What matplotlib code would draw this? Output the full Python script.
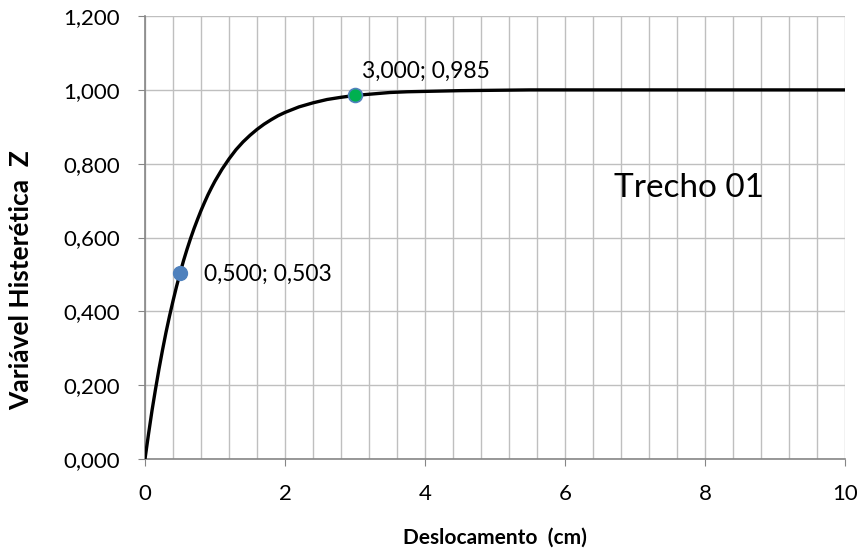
import matplotlib
matplotlib.use("Agg")
import matplotlib.pyplot as plt
from matplotlib.ticker import MultipleLocator, FuncFormatter

# Data
x_vals = [0, 0.05, 0.1, 0.15, 0.2, 0.25, 0.3, 0.35, 0.4, 0.45, 0.5, 0.55, 0.6, 0.65,
          0.7, 0.75, 0.8, 0.85, 0.9, 0.95, 1.0, 1.1, 1.2, 1.3, 1.4, 1.5, 1.6, 1.7,
          1.8, 1.9, 2.0, 2.2, 2.4, 2.6, 2.8, 3.0, 3.25, 3.5, 3.75, 4.0, 4.5, 5.0,
          5.5, 6.0, 7.0, 8.0, 9.0, 10.0]
z_vals = [0, 0.067, 0.131, 0.189, 0.244, 0.295, 0.343, 0.387, 0.428, 0.467, 0.503,
          0.537, 0.568, 0.597, 0.624, 0.649, 0.673, 0.695, 0.716, 0.735, 0.753,
          0.785, 0.813, 0.838, 0.859, 0.877, 0.893, 0.907, 0.919, 0.930, 0.939,
          0.954, 0.965, 0.974, 0.980, 0.985, 0.989, 0.993, 0.995, 0.996, 0.998,
          0.999, 1.0, 1.0, 1.0, 1.0, 1.0, 1.0]
pt1 = (0.5, 0.503)
pt2 = (3.0, 0.985)
label1 = "0,500; 0,503"
label2 = "3,000; 0,985"
title_text = "Trecho 01"

plt.rcParams['font.family'] = ['Lato', 'DejaVu Sans']

fig = plt.figure(figsize=(8.6, 5.55), dpi=100)
ax = fig.add_axes([0.1686, 0.173, 0.814, 0.798])

ax.plot(x_vals, z_vals, color='black', lw=2.4, zorder=3, solid_capstyle='round')
ax.plot([pt1[0]], [pt1[1]], 'o', ms=10, mfc='#4F81BD', mec='#4F81BD', zorder=4)
ax.plot([pt2[0]], [pt2[1]], 'o', ms=10, mfc='#00B050', mec='#4F81BD', mew=1.2, zorder=4)

ax.annotate(label1, xy=pt1, xytext=(17, -0.5), textcoords='offset points',
            fontsize=16.5, va='center', ha='left')
ax.annotate(label2, xy=pt2, xytext=(5, 17), textcoords='offset points',
            fontsize=16.5, va='center', ha='left')
ax.text(6.7, 0.735, title_text, fontsize=24, va='center', ha='left')

ax.set_xlim(0, 10)
ax.set_ylim(0, 1.2)
ax.xaxis.set_major_locator(MultipleLocator(2))
ax.xaxis.set_minor_locator(MultipleLocator(0.4))
ax.yaxis.set_major_locator(MultipleLocator(0.2))
ax.yaxis.set_major_formatter(FuncFormatter(lambda v, p: f"{v:.3f}".replace('.', ',')))
ax.xaxis.set_major_formatter(FuncFormatter(lambda v, p: f"{v:.0f}"))

ax.grid(True, which='major', color='#BFBFBF', lw=1.0, zorder=0)
ax.grid(True, which='minor', axis='x', color='#BFBFBF', lw=1.0, zorder=0)
ax.set_axisbelow(True)
for s in ['top', 'right']:
    ax.spines[s].set_visible(False)
for s in ['left', 'bottom']:
    ax.spines[s].set_color('#868686')
    ax.spines[s].set_linewidth(1.2)
ax.tick_params(which='major', length=5, color='#868686', labelsize=16)
ax.tick_params(axis='x', which='major', pad=13)
ax.tick_params(axis='y', which='major', pad=13)
ax.tick_params(which='minor', length=0)

ax.set_xlabel("Deslocamento  (cm)", fontsize=15, fontweight='bold', labelpad=17)
ax.set_ylabel("Variável Histerética  Z", fontsize=19, fontweight='bold', va='center')
ax.yaxis.set_label_coords(-0.177, 0.404)

fig.savefig("out.png", dpi=100)
